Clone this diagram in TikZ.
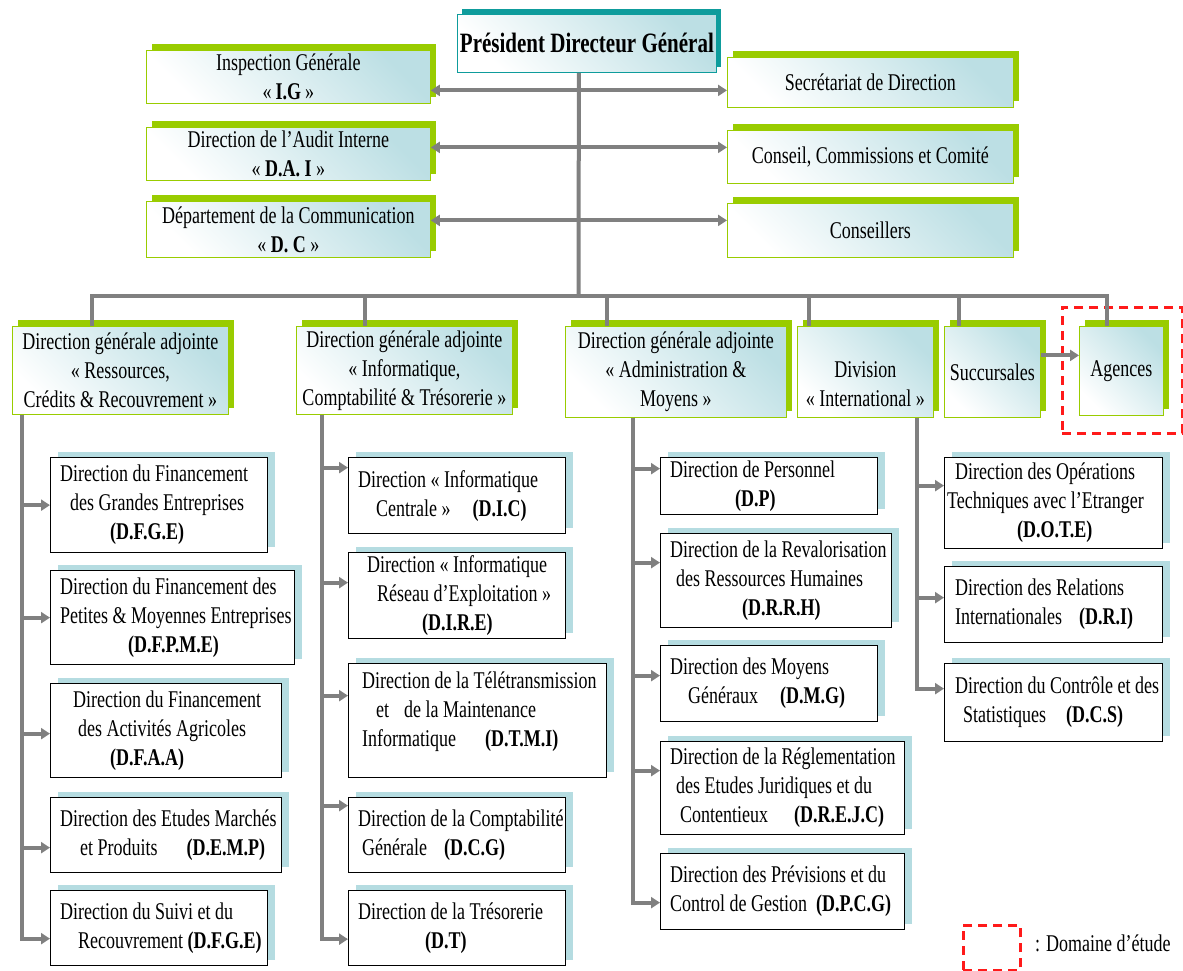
\documentclass[tikz,border=0pt]{standalone}
\usepackage{fontspec}
\setmainfont{Liberation Serif}[FakeStretch=0.75]
\usetikzlibrary{shadows,arrows.meta,calc}
\definecolor{lineGray}{HTML}{808080}
\definecolor{leafGreen}{HTML}{99CC00}
\definecolor{deepTeal}{HTML}{0E9C9C}
\definecolor{paleTeal}{HTML}{BCDFE4}
\definecolor{iceBlue}{HTML}{B5DCE1}
\definecolor{studyRed}{HTML}{FF1A1A}
\newcommand{\indentby}[1]{\hspace*{#1pt}}
\begin{document}
\begin{tikzpicture}[x=1pt,y=-1pt,
  every node/.style={font=\fontsize{24}{29}\selectfont, inner sep=0pt},
  headbox/.style={draw=deepTeal, line width=0.8pt, left color=white, right color=paleTeal,
    shading angle=135, align=center, anchor=north west,
    drop shadow={shadow xshift=5pt, shadow yshift=5pt, fill=deepTeal, opacity=1}},
  greenbox/.style={draw=leafGreen, line width=0.8pt, left color=white, right color=paleTeal,
    shading angle=135, align=center, anchor=north west,
    drop shadow={shadow xshift=6pt, shadow yshift=6pt, fill=leafGreen, opacity=1}},
  unitbox/.style={draw=black, line width=1.3pt, fill=white, anchor=north west,
    drop shadow={shadow xshift=7pt, shadow yshift=6pt, fill=iceBlue, opacity=1}},
  unittext/.style={anchor=west, align=left},
  gline/.style={draw=lineGray, line width=4pt},
  garrow/.style={gline, -{Triangle[length=9pt,width=11pt]}},
  twoway/.style={gline, {Triangle[length=9pt,width=11pt]}-{Triangle[length=9pt,width=11pt]}},
  study/.style={draw=studyRed, line width=2.6pt, dash pattern=on 9pt off 6pt, anchor=north west},
]
\useasboundingbox (0,0) rectangle (1183,971);

% ---------- head and staff units ----------
\node[headbox, minimum width=259pt, minimum height=58pt, font=\fontsize{28}{34}\selectfont\bfseries]
  (pdg) at (457,14) {Président Directeur Général};

\node[greenbox, minimum width=284pt, minimum height=53pt] (ig) at (146,50)
  {Inspection Générale\\«\,\textbf{I.G}\,»};
\node[greenbox, minimum width=284pt, minimum height=53pt] (dai) at (146,127)
  {Direction de l’Audit Interne\\« \textbf{D.A. I} »};
\node[greenbox, minimum width=284pt, minimum height=56pt] (dc) at (146,201)
  {Département de la Communication\\« \textbf{D. C} »};

\node[greenbox, minimum width=286pt, minimum height=50pt] (secr) at (727,57)
  {Secrétariat de Direction};
\node[greenbox, minimum width=286pt, minimum height=53pt] (cons) at (727,130)
  {Conseil, Commissions et Comité};
\node[greenbox, minimum width=286pt, minimum height=54pt] (advisers) at (727,203)
  {Conseillers};

% ---------- second level ----------
\node[study, minimum width=120pt, minimum height=126pt] (scopebox) at (1061,306) {};

\node[greenbox, minimum width=216pt, minimum height=88pt] (dga1) at (12,326)
  {Direction générale adjointe\\« Ressources,\\Crédits \& Recouvrement »};
\node[greenbox, minimum width=216pt, minimum height=88pt] (dga2) at (296,326)
  {Direction générale adjointe\\« Informatique,\\Comptabilité \& Trésorerie »};
\node[greenbox, minimum width=221pt, minimum height=91pt] (dga3) at (565,326)
  {Direction générale adjointe\\« Administration \&\\Moyens »};
\node[greenbox, minimum width=136pt, minimum height=91pt] (division) at (797,326) {};
\node[align=center] (division-t) at ([yshift=-12pt]division.center)
  {Division\\« International »};
\node[greenbox, minimum width=96pt, minimum height=91pt] (succ) at (944,326) {Succursales};
\node[greenbox, minimum width=84pt, minimum height=89pt] (agences) at (1079,326) {Agences};

% ---------- column 1 ----------
\node[unitbox, minimum width=217pt, minimum height=95pt] (dfge) at (50,457) {};
\node[unittext] (dfge-t) at ([xshift=10pt]dfge.west)
  {Direction du Financement\\\indentby{10}des Grandes Entreprises\\\indentby{50}\textbf{(D.F.G.E)}};
\node[unitbox, minimum width=244pt, minimum height=94pt] (dfpme) at (50,570) {};
\node[unittext] (dfpme-t) at ([xshift=10pt]dfpme.west)
  {Direction du Financement des\\Petites \& Moyennes Entreprises\\\indentby{68}\textbf{(D.F.P.M.E)}};
\node[unitbox, minimum width=231pt, minimum height=94pt] (dfaa) at (50,683) {};
\node[unittext] (dfaa-t) at ([xshift=23pt]dfaa.west)
  {Direction du Financement\\\indentby{5}des Activités Agricoles\\\indentby{37}\textbf{(D.F.A.A)}};
\node[unitbox, minimum width=231pt, minimum height=75pt] (demp) at (50,797) {};
\node[unittext] (demp-t) at ([xshift=10pt]demp.west)
  {Direction des Etudes Marchés\\\indentby{20}et Produits\hspace{29pt}\textbf{(D.E.M.P)}};
\node[unitbox, minimum width=217pt, minimum height=75pt] (dsr) at (50,890) {};
\node[unittext] (dsr-t) at ([xshift=10pt]dsr.west)
  {Direction du Suivi et du\\\indentby{18}Recouvrement \textbf{(D.F.G.E)}};

% ---------- column 2 ----------
\node[unitbox, minimum width=217pt, minimum height=76pt] (dic) at (348,457) {};
\node[unittext] (dic-t) at ([xshift=10pt]dic.west)
  {Direction « Informatique\\\indentby{18}Centrale »\hspace{22pt}\textbf{(D.I.C)}};
\node[unitbox, minimum width=217pt, minimum height=86pt] (dire) at (348,552) {};
\node[unittext] (dire-t) at ([xshift=19pt]dire.west)
  {Direction « Informatique\\\indentby{10}Réseau d’Exploitation »\\\indentby{55}\textbf{(D.I.R.E)}};
\node[unitbox, minimum width=258pt, minimum height=114pt] (dtmi) at (348,663) {};
\node[unittext] (dtmi-t) at ([xshift=14pt,yshift=9pt]dtmi.west)
  {Direction de la Télétransmission\\\indentby{14}et\hspace{15pt}de la Maintenance\\Informatique\hspace{29pt}\textbf{(D.T.M.I)}};
\node[unitbox, minimum width=217pt, minimum height=75pt] (dcg) at (348,797) {};
\node[unittext] (dcg-t) at ([xshift=10pt]dcg.west)
  {Direction de la Comptabilité\\\indentby{4}Générale\hspace{17pt}\textbf{(D.C.G)}};
\node[unitbox, minimum width=217pt, minimum height=75pt] (dt) at (348,890) {};
\node[unittext] (dt-t) at ([xshift=10pt]dt.west)
  {Direction de la Trésorerie\\\indentby{67}\textbf{(D.T)}};

% ---------- column 3 ----------
\node[unitbox, minimum width=217pt, minimum height=57pt] (dp) at (660,457) {};
\node[unittext] (dp-t) at ([xshift=10pt]dp.west)
  {Direction de Personnel\\\indentby{65}\textbf{(D.P)}};
\node[unitbox, minimum width=231pt, minimum height=94pt] (drrh) at (660,533) {};
\node[unittext] (drrh-t) at ([xshift=10pt]drrh.west)
  {Direction de la Revalorisation\\\indentby{6}des Ressources Humaines\\\indentby{72}\textbf{(D.R.R.H)}};
\node[unitbox, minimum width=217pt, minimum height=76pt] (dmg) at (660,645) {};
\node[unittext] (dmg-t) at ([xshift=10pt]dmg.west)
  {Direction des Moyens\\\indentby{18}Généraux\hspace{22pt}\textbf{(D.M.G)}};
\node[unitbox, minimum width=244pt, minimum height=93pt] (drejc) at (660,741) {};
\node[unittext] (drejc-t) at ([xshift=10pt]drejc.west)
  {Direction de la Réglementation\\\indentby{6}des Etudes Juridiques et du\\\indentby{10}Contentieux\hspace{26pt}\textbf{(D.R.E.J.C)}};
\node[unitbox, minimum width=244pt, minimum height=76pt] (dpcg) at (660,853) {};
\node[unittext] (dpcg-t) at ([xshift=10pt]dpcg.west)
  {Direction des Prévisions et du\\Control de Gestion\hspace{9pt}\textbf{(D.P.C.G)}};

% ---------- column 4 ----------
\node[unitbox, minimum width=218pt, minimum height=91pt] (dote) at (944,457) {};
\node[unittext] (dote-t) at ([xshift=3pt]dote.west)
  {\indentby{8}Direction des Opérations\\Techniques avec l’Etranger\\\indentby{70}\textbf{(D.O.T.E)}};
\node[unitbox, minimum width=218pt, minimum height=76pt] (dri) at (944,566) {};
\node[unittext] (dri-t) at ([xshift=11pt]dri.west)
  {Direction des Relations\\Internationales\hspace{17pt}\textbf{(D.R.I)}};
\node[unitbox, minimum width=218pt, minimum height=78pt] (dcs) at (944,663) {};
\node[unittext] (dcs-t) at ([xshift=11pt]dcs.west)
  {Direction du Contrôle et des\\\indentby{8}Statistiques\hspace{20pt}\textbf{(D.C.S)}};

% ---------- legend ----------
\node[study, minimum width=57pt, minimum height=45pt] (legendbox) at (962,924) {};
\node[anchor=west] (legendtext) at (1035,943) {: Domaine d’étude};

% ---------- connectors ----------
\coordinate (hub) at (578.5,296);
\draw[gline] ([xshift=-8pt]pdg.south) -- (hub);

\draw[twoway] ([yshift=-13.5pt]ig.east) -- ([yshift=-8pt]secr.west);
\draw[twoway] ([yshift=6.5pt]dai.east) -- ([yshift=9.5pt]cons.west);
\draw[twoway] ([yshift=9pt]dc.east) -- ([yshift=10pt]advisers.west);

\draw[gline] (hub) -| ([xshift=80pt]dga1.north west);
\draw[gline] (hub) -| ([xshift=69pt]dga2.north west);
\draw[gline] (hub) -| ([xshift=42pt]dga3.north west);
\draw[gline] (hub) -| ([xshift=12pt]division.north west);
\draw[gline] (hub) -| ([xshift=15pt]succ.north west);
\draw[gline] (hub) -| ([xshift=28pt]agences.north west);

\draw[garrow] ([yshift=16.5pt]succ.east) -- ([yshift=15.5pt]agences.west);

\coordinate (col1) at ([xshift=10pt]dga1.south west);
\coordinate (col2) at ([xshift=26pt]dga2.south west);
\coordinate (col3) at ([xshift=68pt]dga3.south west);
\coordinate (col4) at ([xshift=120pt]division.south west);

\draw[garrow] (col1) |- (dfge.west);
\draw[garrow] (col1) |- (dfpme.west);
\draw[garrow] (col1) |- ([yshift=-3pt]dfaa.west);
\draw[garrow] (col1) |- ([yshift=-12.5pt]demp.west);
\draw[garrow] (col1) |- ([yshift=-10.5pt]dsr.west);

\draw[garrow] (col2) |- ([yshift=28pt]dic.west);
\draw[garrow] (col2) |- ([yshift=13pt]dire.west);
\draw[garrow] (col2) |- ([yshift=25pt]dtmi.west);
\draw[garrow] (col2) |- ([yshift=29.5pt]dcg.west);
\draw[garrow] (col2) |- ([yshift=-11pt]dt.west);

\draw[garrow] (col3) |- ([yshift=17.5pt]dp.west);
\draw[garrow] (col3) |- ([yshift=18pt]drrh.west);
\draw[garrow] (col3) |- ([yshift=8pt]dmg.west);
\draw[garrow] (col3) |- ([yshift=17.5pt]drejc.west);
\draw[garrow] (col3) |- ([yshift=-11pt]dpcg.west);

\draw[garrow] (col4) |- ([yshift=17.5pt]dote.west);
\draw[garrow] (col4) |- ([yshift=7pt]dri.west);
\draw[garrow] (col4) |- ([yshift=14pt]dcs.west);
\end{tikzpicture}
\end{document}
